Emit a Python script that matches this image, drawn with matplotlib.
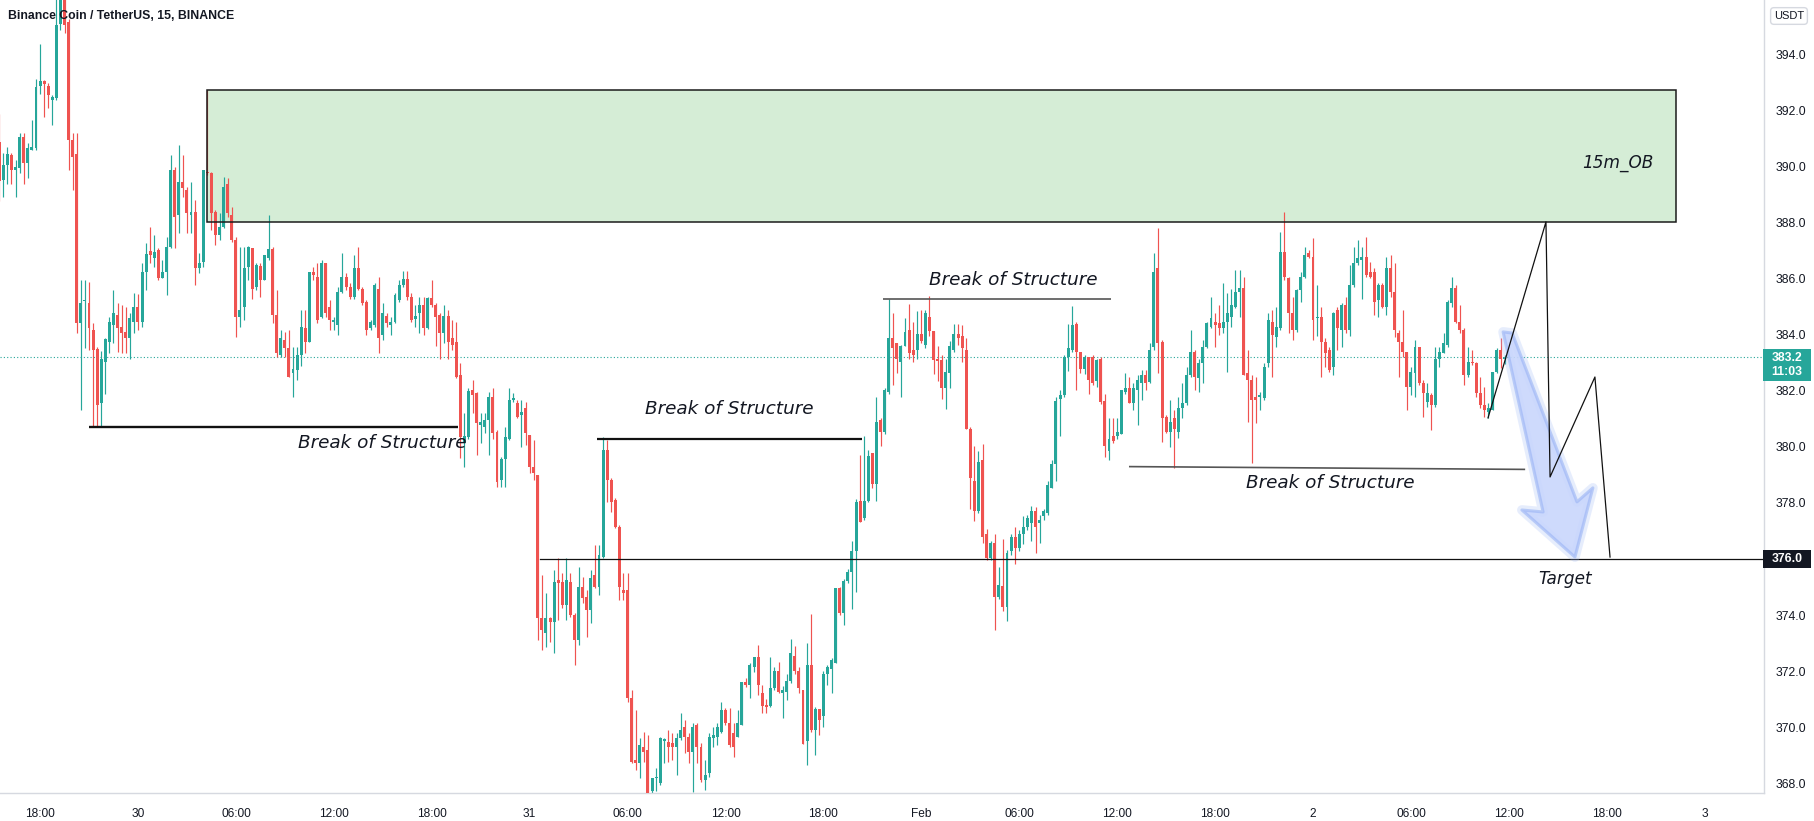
import numpy as np
import pandas as pd
import matplotlib
matplotlib.use('Agg')
from matplotlib import pyplot as plt
from matplotlib.patches import Rectangle, Polygon

# 15m candles of BNB/USDT, first bar 29 Jan 15:30
start_time = '2022-01-29 15:30'
opens = [
    390.9, 389.53, 390.07, 390.43, 389.9, 389.95, 391.08, 390.13, 390.6, 390.67,
    392.89, 393.07, 392.89, 392.4, 392.45, 395.1, 396.6, 395.19, 390.96, 390.46,
    384.42, 385.2, 385.15, 384.18, 383.5, 381.56, 383.05, 383.76, 384.36, 384.71,
    384.3, 384.12, 383.88, 384.47, 385.0, 384.47, 386.26, 387.0, 386.74, 387.03,
    386.02, 386.26, 387.15, 389.89, 388.28, 389.47, 389.18, 388.28, 388.4, 386.38,
    386.62, 389.83, 389.77, 388.4, 387.57, 387.87, 389.41, 388.28, 387.39, 384.65,
    385.0, 386.44, 387.09, 385.72, 386.47, 385.96, 386.74, 387.06, 384.71, 383.3,
    383.82, 383.52, 382.63, 382.75, 383.28, 384.24, 383.76, 386.26, 386.08, 384.65,
    386.56, 385.0, 384.45, 384.36, 385.54, 386.08, 385.72, 385.37, 386.38, 385.66,
    385.19, 384.24, 384.36, 385.66, 384.0, 384.68, 384.36, 384.48, 385.25, 385.8,
    386.0, 385.37, 384.56, 384.77, 385.07, 384.24, 385.31, 385.07, 384.71, 384.06,
    384.68, 383.88, 383.76, 382.57, 380.13, 380.37, 382.04, 381.92, 380.8, 380.73,
    380.96, 381.8, 380.55, 378.82, 379.56, 380.3, 381.68, 381.56, 381.14, 381.38,
    380.43, 379.3, 379.0, 373.88, 373.35, 373.88, 373.76, 375.25, 375.19, 374.36,
    375.19, 374.0, 373.11, 375.01, 374.65, 374.18, 375.43, 375.01, 376.08, 379.89,
    378.82, 378.1, 377.15, 374.9, 374.9, 371.02, 368.82, 368.7, 369.3, 369.18,
    367.7, 368.17, 368.0, 369.5, 369.48, 369.42, 369.3, 369.6, 370.01, 369.65,
    369.12, 370.07, 369.3, 368.11, 368.35, 369.6, 369.65, 369.83, 370.6, 370.13,
    369.77, 369.65, 370.07, 371.62, 371.5, 372.15, 372.51, 371.2, 370.8, 370.76,
    371.39, 372.0, 371.2, 371.26, 371.64, 372.52, 372.0, 371.33, 369.5, 372.2,
    369.9, 370.64, 370.39, 371.89, 372.08, 372.27, 374.95, 374.08, 375.2, 375.52,
    376.27, 378.08, 377.46, 378.08, 379.8, 378.67, 380.96, 380.53, 381.96, 383.9,
    383.72, 383.03, 383.59, 384.18, 383.47, 383.47, 384.03, 383.65, 384.66, 384.16,
    383.15, 383.09, 382.09, 382.65, 383.47, 384.03, 383.97, 383.47, 380.65, 378.77,
    377.71, 379.52, 376.9, 376.02, 376.58, 374.64, 375.02, 374.27, 376.27, 376.77,
    376.4, 376.9, 377.15, 377.27, 377.71, 377.27, 377.52, 377.65, 378.52, 379.4,
    381.71, 381.84, 383.22, 383.47, 384.4, 383.4, 382.78, 383.22, 383.22, 382.34,
    383.15, 381.65, 379.84, 380.4, 380.4, 380.46, 381.96, 382.1, 381.56, 382.04,
    382.27, 382.57, 382.33, 383.58, 386.38, 383.76, 381.08, 380.55, 381.02, 380.55,
    381.38, 381.56, 382.57, 383.4, 382.45, 382.99, 383.58, 384.3, 384.48, 384.42,
    384.24, 384.48, 384.65, 385.01, 385.55, 385.67, 382.63, 382.39, 381.8, 381.8,
    381.74, 382.99, 384.47, 383.94, 384.24, 386.98, 386.02, 384.77, 384.18, 385.61,
    386.08, 386.92, 386.8, 384.6, 384.65, 383.76, 383.46, 382.87, 384.89, 384.18,
    385.07, 384.18, 385.79, 386.56, 386.68, 386.8, 386.26, 386.26, 385.25, 385.79,
    385.01, 386.38, 385.55, 384.06, 383.76, 383.4, 382.15, 382.63, 383.58, 382.27,
    381.62, 381.86, 381.5, 383.16, 383.34, 383.64, 385.13, 385.67, 384.48, 384.18,
    382.57, 383.05, 382.99, 381.92, 381.5, 381.26, 381.32, 382.69, 383.46, 383.15,
]
highs = [
    391.9, 390.49, 390.72, 390.49, 390.25, 391.2, 391.2, 390.84, 391.68, 393.16,
    394.4, 393.1, 392.99, 392.57, 396.5, 397.2, 397.0, 395.3, 391.2, 391.2,
    385.96, 385.96, 385.9, 384.42, 383.58, 383.43, 383.9, 384.65, 385.6, 385.13,
    385.07, 385.0, 384.77, 385.5, 385.45, 386.56, 387.27, 387.87, 387.57, 387.09,
    386.68, 387.51, 390.43, 390.01, 390.78, 390.43, 389.3, 389.47, 388.82, 386.92,
    389.89, 392.75, 389.83, 388.46, 388.34, 389.65, 389.59, 388.58, 387.51, 387.15,
    387.15, 387.18, 387.09, 386.56, 386.56, 386.86, 388.28, 387.15, 385.6, 384.18,
    384.12, 384.18, 383.58, 383.58, 384.89, 384.89, 386.26, 386.44, 386.56, 386.68,
    386.56, 385.25, 384.65, 385.72, 386.92, 386.2, 385.84, 386.86, 387.15, 385.72,
    385.25, 384.53, 385.84, 386.08, 385.13, 384.77, 384.65, 385.49, 385.96, 386.3,
    386.3, 385.49, 385.07, 385.37, 385.37, 385.37, 385.96, 385.13, 384.77, 385.07,
    384.89, 384.53, 384.48, 382.99, 381.2, 382.1, 382.39, 381.98, 381.2, 381.2,
    381.98, 382.1, 380.6, 379.65, 380.73, 382.1, 381.92, 381.68, 381.68, 381.62,
    380.43, 380.25, 379.0, 375.43, 374.77, 373.94, 375.6, 376.02, 375.49, 376.02,
    375.49, 374.06, 375.72, 375.37, 374.89, 375.6, 376.5, 376.5, 380.37, 380.25,
    378.88, 378.17, 377.21, 375.49, 375.49, 371.32, 370.6, 369.6, 369.83, 369.71,
    368.17, 368.52, 369.65, 369.6, 369.89, 369.77, 369.77, 370.49, 370.25, 369.77,
    370.13, 370.13, 369.42, 368.82, 369.77, 370.01, 370.13, 370.9, 370.67, 370.67,
    370.13, 370.6, 371.62, 371.74, 372.27, 372.51, 372.93, 371.51, 371.0, 372.5,
    372.14, 372.33, 371.45, 371.89, 373.14, 372.89, 372.14, 371.33, 373.0, 374.02,
    370.7, 370.64, 372.0, 372.2, 372.45, 374.95, 375.0, 375.27, 375.64, 376.65,
    378.15, 379.71, 380.4, 379.9, 379.8, 381.78, 381.03, 382.09, 385.28, 384.78,
    383.72, 383.65, 384.6, 385.1, 384.47, 384.84, 384.91, 384.91, 385.41, 384.16,
    383.59, 383.28, 383.15, 383.78, 384.4, 384.4, 384.34, 383.9, 380.71, 380.03,
    379.84, 380.09, 377.08, 376.65, 376.9, 375.7, 376.71, 376.33, 376.9, 377.15,
    377.02, 377.52, 377.58, 377.9, 377.84, 377.58, 377.77, 378.77, 379.52, 381.78,
    382.03, 383.28, 384.4, 385.03, 384.47, 383.4, 383.28, 383.22, 383.28, 383.15,
    383.22, 381.9, 381.03, 381.03, 381.03, 382.03, 382.65, 382.51, 382.27, 382.57,
    382.75, 382.75, 383.7, 386.92, 387.81, 383.82, 381.14, 381.68, 381.32, 381.8,
    382.27, 382.87, 384.18, 383.46, 383.16, 383.82, 384.48, 385.37, 384.77, 385.07,
    385.85, 385.49, 385.66, 386.32, 386.32, 386.08, 383.46, 382.57, 382.51, 381.98,
    382.99, 384.77, 384.89, 385.01, 387.69, 388.41, 386.08, 385.37, 385.66, 386.26,
    387.15, 387.03, 387.45, 385.78, 385.01, 383.88, 383.58, 384.83, 385.01, 385.13,
    385.37, 386.5, 387.15, 387.39, 387.15, 387.51, 386.62, 386.38, 385.84, 385.84,
    386.8, 386.86, 386.56, 384.18, 384.89, 383.4, 382.87, 383.82, 383.58, 382.39,
    382.27, 381.92, 383.58, 383.58, 384.06, 385.25, 386.08, 385.78, 385.07, 384.24,
    383.58, 383.46, 383.05, 382.51, 382.15, 381.56, 382.69, 383.52, 383.88, 383.3,
]
lows = [
    388.8, 388.94, 389.41, 389.41, 388.94, 389.77, 389.41, 389.6, 390.6, 390.6,
    392.6, 391.8, 392.1, 391.5, 392.39, 394.9, 394.8, 389.9, 389.17, 384.06,
    381.32, 383.52, 383.46, 380.73, 380.73, 380.73, 381.9, 383.34, 383.7, 383.4,
    383.34, 383.34, 383.16, 384.06, 384.18, 384.3, 385.6, 386.56, 386.44, 385.96,
    386.02, 385.43, 387.09, 387.09, 387.63, 388.94, 387.63, 387.63, 385.8, 386.2,
    386.44, 389.7, 387.75, 387.21, 387.39, 387.81, 388.2, 387.33, 383.94, 384.3,
    384.53, 385.96, 385.3, 385.6, 385.37, 385.96, 386.68, 384.42, 383.22, 383.2,
    383.2, 382.51, 381.8, 382.39, 382.9, 383.34, 383.76, 385.96, 384.42, 384.6,
    384.65, 384.18, 384.18, 384.0, 385.49, 385.6, 385.3, 385.3, 385.6, 385.07,
    384.0, 384.18, 384.3, 383.34, 383.82, 384.3, 384.0, 384.42, 385.19, 385.7,
    385.25, 384.48, 384.3, 384.06, 384.0, 384.2, 385.0, 383.6, 383.16, 383.7,
    383.16, 383.46, 382.45, 379.6, 379.3, 380.3, 381.2, 379.71, 380.13, 380.49,
    379.71, 380.3, 378.58, 378.58, 378.58, 380.25, 381.62, 381.02, 380.01, 380.07,
    379.06, 378.82, 373.11, 372.75, 372.87, 373.05, 372.63, 373.82, 374.24, 373.82,
    373.94, 372.21, 372.93, 374.42, 373.23, 373.7, 374.95, 374.71, 376.02, 378.05,
    377.69, 377.1, 374.53, 374.53, 370.9, 368.7, 368.46, 368.17, 368.76, 367.5,
    367.6, 367.7, 367.93, 368.7, 368.76, 368.82, 368.29, 369.54, 369.06, 368.7,
    367.69, 368.7, 368.05, 367.75, 368.23, 369.3, 369.36, 369.77, 370.07, 369.3,
    368.94, 369.65, 370.07, 371.44, 371.02, 371.98, 371.14, 370.51, 370.5, 370.7,
    371.33, 371.2, 370.33, 370.95, 371.58, 371.89, 371.2, 369.39, 368.64, 369.83,
    369.0, 369.7, 370.0, 371.5, 371.2, 372.27, 374.0, 373.64, 375.14, 374.2,
    374.83, 377.33, 377.4, 378.02, 378.52, 378.08, 380.02, 380.46, 381.9, 382.22,
    382.65, 381.78, 383.59, 383.15, 383.03, 383.15, 383.72, 383.53, 383.97, 382.59,
    382.34, 381.72, 381.34, 382.09, 383.4, 383.65, 383.03, 380.65, 377.77, 377.34,
    377.65, 376.58, 375.96, 375.96, 373.45, 374.58, 374.14, 373.77, 376.15, 375.83,
    376.27, 376.52, 377.02, 376.65, 376.21, 376.58, 377.4, 377.58, 378.52, 378.77,
    380.4, 381.78, 382.72, 383.4, 382.03, 382.65, 382.59, 381.9, 382.22, 382.15,
    381.53, 379.65, 379.52, 380.15, 380.27, 380.46, 381.9, 381.56, 381.32, 380.8,
    381.68, 382.04, 382.27, 383.46, 382.63, 380.19, 380.49, 380.01, 379.24, 380.31,
    381.02, 381.5, 382.51, 382.04, 381.98, 382.27, 383.52, 384.24, 383.58, 384.0,
    384.06, 382.69, 384.3, 384.95, 384.65, 382.57, 380.9, 379.42, 380.85, 381.32,
    381.68, 382.87, 382.51, 383.58, 384.18, 385.96, 384.06, 383.82, 384.12, 385.19,
    386.02, 386.74, 383.82, 383.95, 382.51, 382.87, 382.69, 382.57, 383.46, 383.58,
    384.06, 383.95, 385.72, 386.5, 385.3, 386.08, 386.02, 384.71, 384.65, 384.95,
    384.71, 385.37, 383.94, 382.51, 383.22, 381.32, 381.86, 381.8, 382.21, 381.08,
    381.44, 380.6, 381.44, 382.87, 383.34, 383.58, 385.01, 384.42, 384.06, 382.21,
    382.51, 382.93, 381.8, 381.38, 381.08, 381.02, 381.32, 382.63, 382.81, 382.95,
]
closes = [
    389.5, 390.07, 390.46, 389.89, 390.0, 391.08, 390.13, 390.67, 390.7, 392.87,
    393.07, 392.96, 392.57, 392.5, 395.07, 396.6, 395.07, 390.96, 390.37, 384.42,
    385.15, 385.25, 384.24, 383.46, 381.5, 383.13, 383.84, 384.48, 384.77, 384.24,
    384.06, 383.88, 384.6, 385.0, 384.47, 386.26, 386.9, 386.86, 386.98, 386.02,
    386.26, 387.15, 389.89, 388.23, 389.47, 389.24, 388.34, 388.38, 386.38, 386.56,
    389.89, 389.77, 388.34, 387.57, 387.87, 389.3, 388.34, 387.39, 384.65, 384.89,
    386.38, 387.15, 385.66, 386.5, 385.96, 386.86, 387.06, 384.71, 383.34, 383.88,
    383.52, 382.51, 382.8, 383.28, 384.3, 383.76, 386.26, 386.14, 384.53, 386.56,
    384.77, 384.53, 384.55, 385.54, 386.08, 385.72, 385.37, 386.38, 385.66, 385.13,
    384.18, 384.47, 385.78, 383.88, 384.77, 384.42, 384.48, 385.43, 385.79, 386.0,
    385.37, 384.53, 384.68, 385.07, 384.24, 385.31, 385.07, 384.65, 384.06, 384.68,
    383.76, 383.64, 382.51, 380.37, 380.39, 382.0, 381.86, 380.84, 380.9, 380.96,
    381.8, 380.49, 378.76, 379.56, 380.37, 381.68, 381.74, 381.06, 381.26, 380.49,
    379.3, 379.06, 373.88, 373.46, 373.88, 373.76, 375.19, 375.13, 374.36, 375.25,
    374.0, 373.11, 375.01, 374.6, 374.18, 375.31, 375.01, 376.14, 379.89, 378.82,
    378.05, 377.15, 375.01, 374.77, 371.02, 368.76, 368.7, 369.36, 369.12, 367.63,
    368.17, 368.2, 369.6, 369.56, 369.3, 369.3, 369.6, 369.89, 369.65, 369.12,
    370.01, 369.3, 368.11, 368.29, 369.65, 369.71, 370.01, 370.6, 370.13, 369.36,
    369.3, 370.13, 371.62, 371.5, 372.21, 372.51, 371.5, 370.76, 370.7, 371.39,
    372.0, 371.26, 371.33, 371.64, 372.64, 372.0, 371.39, 369.39, 372.2, 369.9,
    370.64, 370.26, 371.89, 372.14, 372.39, 374.95, 374.08, 375.2, 375.52, 376.27,
    378.02, 377.33, 378.08, 379.67, 378.67, 380.9, 380.53, 382.03, 383.9, 383.53,
    383.15, 383.59, 384.1, 383.34, 383.28, 384.03, 383.78, 384.78, 384.16, 383.09,
    383.08, 382.09, 382.68, 383.59, 384.03, 383.9, 383.53, 380.65, 378.9, 377.71,
    379.46, 376.77, 376.02, 376.58, 374.64, 375.08, 374.27, 376.21, 376.77, 376.4,
    376.9, 377.15, 377.46, 377.71, 377.15, 377.4, 377.71, 378.65, 379.4, 381.65,
    381.84, 383.22, 383.53, 384.34, 383.4, 382.78, 383.22, 382.4, 382.28, 383.09,
    381.59, 380.03, 380.27, 380.21, 380.52, 382.03, 382.09, 381.56, 382.1, 382.39,
    382.57, 382.27, 383.46, 386.26, 383.7, 381.02, 380.55, 380.9, 380.66, 381.38,
    381.56, 382.57, 383.4, 382.51, 382.99, 383.58, 384.42, 384.6, 384.36, 384.24,
    384.48, 384.77, 385.07, 385.55, 385.67, 382.57, 382.39, 381.68, 381.68, 381.86,
    382.87, 384.53, 384.0, 384.3, 386.98, 386.08, 384.77, 384.18, 385.61, 386.08,
    386.86, 386.8, 384.54, 384.65, 383.76, 383.34, 382.75, 384.77, 384.24, 385.07,
    384.18, 385.79, 386.56, 386.74, 386.8, 386.14, 386.08, 385.19, 385.79, 385.01,
    386.38, 385.55, 384.18, 383.76, 383.4, 382.15, 382.69, 383.58, 382.27, 381.92,
    381.92, 381.5, 383.16, 383.4, 383.7, 385.19, 385.67, 384.48, 384.18, 382.57,
    383.05, 382.99, 381.92, 381.5, 381.32, 381.38, 382.69, 383.46, 383.16, 383.2,
]

# drawings, x in bar numbers, y in USDT
order_block = (50.9, 411.0, 388.04, 392.75)   # x0, x1, low, high
bos_lines = [(22.0, 112.4, 380.72, 380.72), (146.5, 211.5, 380.29, 380.29),
             (216.6, 272.5, 385.3, 385.3), (276.9, 374.0, 379.3, 379.2)]
bos_text = [(93.9, 380.13), (178.9, 381.35), (248.5, 385.97), (326.2, 378.72)]
target_price = 376.0
target_start = 132.5
zigzag_x = [364.9, 379.1, 380.1, 391.1, 394.8]
zigzag_y = [381.04, 388.04, 378.93, 382.5, 376.07]
arrow_x = [368.6, 370.8, 386.7, 390.6, 386.2, 373.2, 378.4]
arrow_y = [384.11, 384.07, 378.04, 378.54, 376.07, 377.75, 377.68]
last_price = 383.2
countdown = '11:03'

UP = '#26a69a'
DOWN = '#ef5350'
INK = '#131722'
W, H = 1814, 821

o = np.array(opens)
h = np.array(highs)
l = np.array(lows)
c = np.array(closes)
h = np.maximum(h, np.maximum(o, c))
l = np.minimum(l, np.minimum(o, c))
x = np.arange(len(o))
col = np.where(c >= o, UP, DOWN)

fig = plt.figure(figsize=(W / 100, H / 100), dpi=100)
ax = fig.add_axes([0, 28 / H, 1764 / W, 793 / H])
ax.set_xlim(0.184, 432.54)
ax.set_ylim(367.643, 395.964)

# order block behind the bars
ax.add_patch(Rectangle((order_block[0], order_block[2]), order_block[1] - order_block[0],
                       order_block[3] - order_block[2], facecolor='#d5edd6',
                       edgecolor='none', zorder=1))
ax.add_patch(Rectangle((order_block[0], order_block[2]), order_block[1] - order_block[0],
                       order_block[3] - order_block[2], facecolor='none',
                       edgecolor='#1b1b1b', lw=1.1, zorder=4))

ax.vlines(x, l, h, colors=col, lw=0.85, zorder=2)
body = np.maximum(np.abs(c - o), 0.04)
ax.bar(x, body, bottom=np.minimum(o, c), width=0.72, color=col, linewidth=0, zorder=3)

ax.axhline(last_price, color=UP, ls=(0, (1, 2)), lw=0.8, zorder=1)

# break of structure lines
bos_style = [dict(color='#111111', lw=1.7), dict(color='#111111', lw=1.6),
             dict(color='#555555', lw=1.2), dict(color='#555555', lw=1.2)]
for (x0, x1, y0, y1), st in zip(bos_lines, bos_style):
    ax.plot([x0, x1], [y0, y1], solid_capstyle='butt', zorder=5, **st)
for tx, ty in bos_text:
    ax.text(tx, ty, 'Break of Structure', ha='center', va='center', fontsize=13.2,
            style='italic', family='DejaVu Sans', color=INK, zorder=6)

ax.plot([target_start, 440], [target_price, target_price], color='#111111', lw=0.9, zorder=5)
ax.text(383.8, 375.29, 'Target', ha='center', va='center', fontsize=12.2,
        style='italic', family='DejaVu Sans', color=INK, zorder=6)
ax.text(396.8, 390.14, '15m_OB', ha='center', va='center', fontsize=12.2,
        style='italic', family='DejaVu Sans', color=INK, zorder=6)

# projected path and arrow
pts = np.column_stack([arrow_x, arrow_y])
ax.add_patch(Polygon(pts, closed=True, facecolor='none', edgecolor=(0.62, 0.72, 0.97, 0.25),
                     lw=7, joinstyle='round', zorder=6))
ax.add_patch(Polygon(pts, closed=True, facecolor=(0.79, 0.84, 0.99, 0.9),
                     edgecolor=(0.6, 0.7, 0.96, 0.6), lw=2.2, joinstyle='round', zorder=6))
ax.plot(zigzag_x, zigzag_y, color='#111111', lw=0.9, zorder=7)

# time axis
times = pd.date_range(start_time, periods=440, freq='15min')
ticks, labels = [], []
for i, t in enumerate(times):
    if t.minute == 0 and t.hour % 6 == 0:
        ticks.append(i)
        if t.hour == 0:
            labels.append(t.strftime('%b') if t.day == 1 else str(t.day))
        else:
            labels.append(t.strftime('%H:%M'))
ax.set_xticks(ticks)
ax.set_xticklabels(labels, family='Liberation Sans', fontsize=8.6, color=INK)
ax.tick_params(axis='x', length=0, pad=11)

# price axis
yt = np.arange(368, 395, 2)
ax.yaxis.tick_right()
ax.set_yticks(yt)
ax.set_yticklabels([f'{v:.1f}' for v in yt], family='Liberation Sans', fontsize=8.8, color=INK)
ax.tick_params(axis='y', length=0, pad=8)

for s in ['top', 'left']:
    ax.spines[s].set_visible(False)
for s in ['right', 'bottom']:
    ax.spines[s].set_color('#d6d9e0')
    ax.spines[s].set_linewidth(1.0)


def px_box(x0, y0, x1, y1, **kw):
    # box given in figure pixels measured from the top-left corner
    fig.add_artist(Rectangle((x0 / W, 1 - y1 / H), (x1 - x0) / W, (y1 - y0) / H,
                             transform=fig.transFigure, **kw))


px_box(1763, 550, 1811, 568, facecolor=INK, edgecolor='none', zorder=10)
fig.text(1787 / W, 1 - 559.5 / H, f'{target_price:.1f}', ha='center', va='center',
         fontsize=8.8, family='Liberation Sans', color='white', weight='bold', zorder=11)
px_box(1763, 349, 1811, 381, facecolor=UP, edgecolor='none', zorder=10)
fig.text(1787 / W, 1 - 358 / H, f'{last_price:.1f}', ha='center', va='center',
         fontsize=8.8, family='Liberation Sans', color='white', weight='bold', zorder=11)
fig.text(1787 / W, 1 - 372 / H, countdown, ha='center', va='center',
         fontsize=8.8, family='Liberation Sans', color='white', weight='bold', zorder=11)

fig.text(1789 / W, 1 - 16 / H, 'USDT', ha='center', va='center', fontsize=8,
         family='Liberation Sans', color=INK,
         bbox=dict(boxstyle='round,pad=0.3,rounding_size=0.3', fc='white', ec='#d6d9e0'))

fig.text(8 / W, 1 - 16 / H, 'Binance Coin / TetherUS, 15, BINANCE', ha='left', va='center',
         fontsize=8.8, family='Liberation Sans', weight='bold', color=INK)

fig.savefig('out.png', dpi=100)
